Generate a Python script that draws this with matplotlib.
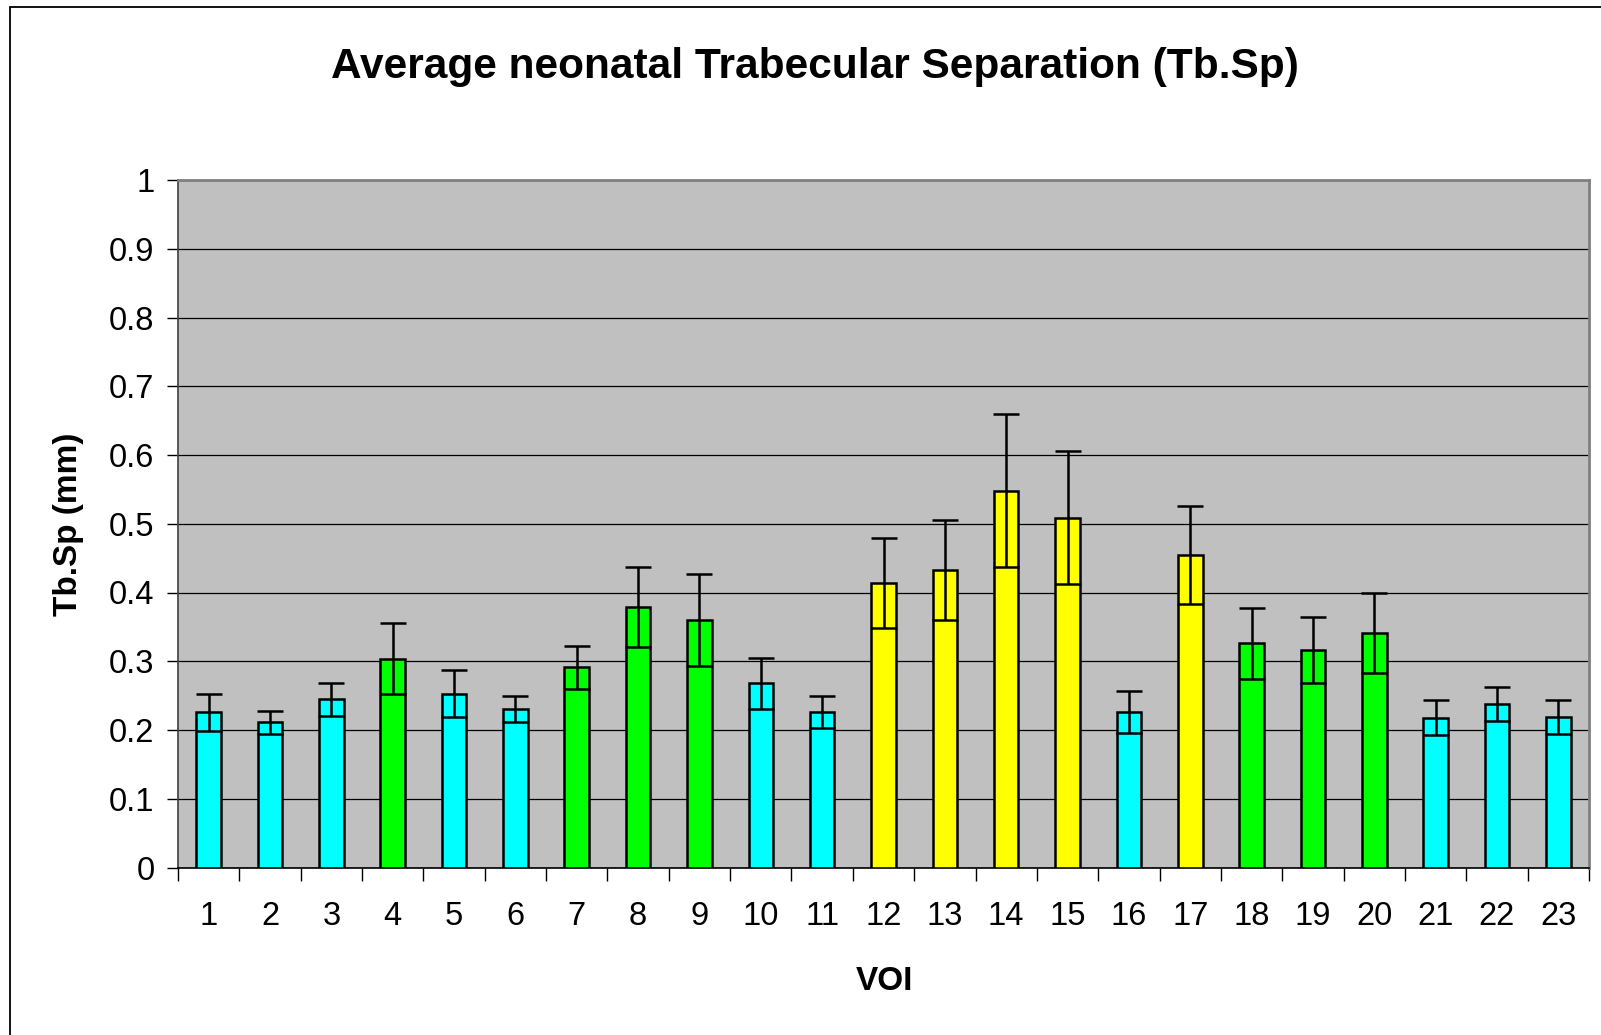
import matplotlib
matplotlib.use("Agg")
import matplotlib.pyplot as plt
from matplotlib.patches import Rectangle
from matplotlib.ticker import FixedLocator, FixedFormatter

plt.rcParams['font.family'] = ['Liberation Sans', 'DejaVu Sans']

# Tb.Sp per volume of interest (mm), with error bar half-lengths
voi = list(range(1, 24))
tbsp_mean = [0.226, 0.211, 0.245, 0.304, 0.253, 0.230, 0.291, 0.379, 0.360,
             0.268, 0.226, 0.414, 0.433, 0.548, 0.509, 0.226, 0.455, 0.326,
             0.317, 0.341, 0.218, 0.238, 0.219]
tbsp_err = [0.027, 0.017, 0.024, 0.052, 0.034, 0.019, 0.031, 0.058, 0.067,
            0.037, 0.023, 0.065, 0.073, 0.111, 0.097, 0.031, 0.071, 0.052,
            0.048, 0.058, 0.025, 0.025, 0.025]
region = ['c', 'c', 'c', 'g', 'c', 'c', 'g', 'g', 'g', 'c', 'c', 'y', 'y',
          'y', 'y', 'c', 'y', 'g', 'g', 'g', 'c', 'c', 'c']
region_colors = {'c': '#00FFFF', 'g': '#00FF00', 'y': '#FFFF00'}
y_ticks = [0, 0.1, 0.2, 0.3, 0.4, 0.5, 0.6, 0.7, 0.8, 0.9, 1.0]
y_tick_labels = ['0', '0.1', '0.2', '0.3', '0.4', '0.5', '0.6', '0.7', '0.8', '0.9', '1']

W, H = 1601, 1035
fig = plt.figure(figsize=(W / 100, H / 100), dpi=100)
fig.patch.set_facecolor('white')

# chart-area frame (runs past the right and bottom edges)
fig.patches.append(Rectangle((9.5 / W, -0.05), 1.2, 1 - 6.5 / H + 0.05,
                             transform=fig.transFigure, fill=False,
                             edgecolor='black', linewidth=1.3, clip_on=False))

left, right, top, bottom = 178, 1589, 180, 867.5
ax = fig.add_axes([left / W, 1 - bottom / H, (right - left) / W, (bottom - top) / H])
ax.set_facecolor('#C0C0C0')

colors = [region_colors[r] for r in region]
ax.bar(voi, tbsp_mean, width=0.4, color=colors, edgecolor='black', linewidth=1.8,
       yerr=tbsp_err, zorder=3,
       error_kw=dict(ecolor='black', elinewidth=1.8, capsize=9.5, capthick=1.8, zorder=4))

ax.set_xlim(0.5, 23.5)
ax.set_ylim(0, 1)

ax.yaxis.set_major_locator(FixedLocator(y_ticks))
ax.yaxis.set_major_formatter(FixedFormatter(y_tick_labels))
ax.grid(axis='y', color='black', linewidth=0.9, zorder=1)
ax.set_axisbelow(True)

ax.set_xticks(voi)
ax.set_xticklabels([str(v) for v in voi])
ax.set_xticks([v + 0.5 for v in [0] + voi], minor=True)
ax.tick_params(axis='x', which='major', length=0, pad=24, labelsize=23.5)
ax.tick_params(axis='x', which='minor', length=9, width=1, direction='out', color='black')
ax.tick_params(axis='y', which='major', length=8, width=1, direction='out', pad=9,
               labelsize=23.5, color='black')

for side in ('top', 'right'):
    ax.spines[side].set_color('#808080')
    ax.spines[side].set_linewidth(2)
ax.spines['left'].set_color('#404040')
ax.spines['left'].set_linewidth(1.2)
ax.spines['bottom'].set_color('black')
ax.spines['bottom'].set_linewidth(1.2)

fig.text(815 / W, 1 - 67 / H, 'Average neonatal Trabecular Separation (Tb.Sp)',
         ha='center', va='center', fontsize=30.5, fontweight='bold')
fig.text(68 / W, 1 - 524 / H, 'Tb.Sp (mm)', ha='center', va='center',
         rotation=90, fontsize=24, fontweight='bold')
fig.text(884 / W, 1 - 981 / H, 'VOI', ha='center', va='center',
         fontsize=24, fontweight='bold')

fig.savefig('out.png', dpi=100)
